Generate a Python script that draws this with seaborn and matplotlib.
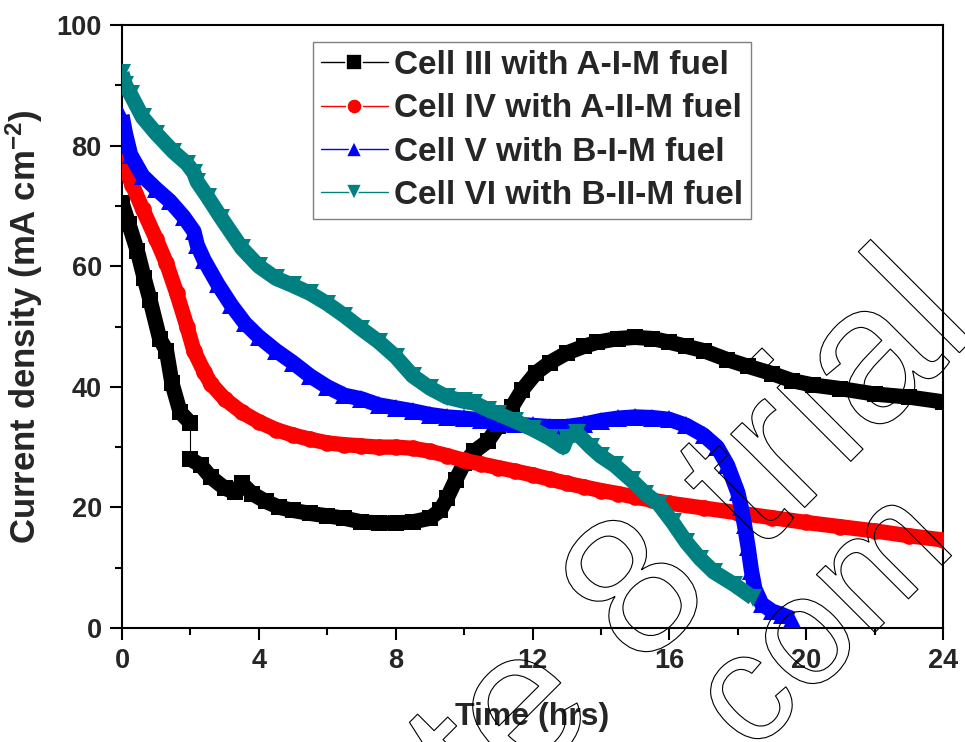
import matplotlib
matplotlib.use("Agg")
import matplotlib.pyplot as plt
import matplotlib.patheffects as pe
from matplotlib.lines import Line2D
from matplotlib.ticker import MultipleLocator
import seaborn as sns

# ---- Cell III with A-I-M fuel (two recorded segments) ----
cell3_t_a = [0.0, 0.2, 0.45, 0.65, 0.82, 1.1, 1.3, 1.46, 1.7, 2.0]
cell3_j_a = [70.5, 67.0, 62.5, 58.0, 54.4, 48.0, 46.0, 40.6, 35.8, 34.0]
cell3_t_b = [2.0, 2.3, 2.6, 3.0, 3.3, 3.5, 3.8, 4.2, 4.6, 5.0, 5.5, 6.0, 6.5,
             7.0, 7.5, 8.0, 8.5, 9.0, 9.3, 9.5, 9.75, 10.0, 10.3, 10.7, 11.0,
             11.4, 11.7, 12.1, 12.5, 13.0, 13.5, 13.9, 14.5, 15.0, 15.5, 16.0,
             16.5, 17.0, 17.7, 18.3, 19.0, 19.6, 20.2, 21.0, 22.0, 23.0, 24.0]
cell3_j_b = [28.0, 27.0, 25.0, 23.2, 22.5, 24.0, 22.3, 21.0, 20.0, 19.5, 19.0,
             18.6, 18.2, 17.6, 17.4, 17.4, 17.6, 18.2, 19.5, 21.5, 24.5, 27.3,
             29.3, 31.0, 33.5, 36.7, 39.5, 42.3, 44.0, 45.6, 46.7, 47.4, 48.0,
             48.2, 48.0, 47.4, 46.7, 46.0, 44.5, 43.4, 42.2, 41.0, 40.3, 39.7,
             38.8, 38.3, 37.5]

# ---- Cell IV with A-II-M fuel ----
cell4_t = [0.0, 0.3, 0.6, 1.0, 1.3, 1.6, 1.9, 2.1, 2.4, 2.6, 3.0, 3.5, 4.0,
           4.5, 5.0, 5.5, 6.0, 6.5, 7.0, 7.5, 8.0, 8.5, 9.0, 9.5, 10.0, 10.5,
           11.0, 11.5, 12.0, 12.5, 13.0, 13.5, 14.0, 14.5, 15.0, 15.5, 16.0,
           17.0, 18.0, 19.0, 20.0, 21.0, 22.0, 23.0, 24.0]
cell4_j = [77.5, 73.5, 69.5, 64.5, 60.5, 55.5, 50.0, 46.0, 42.5, 40.5, 38.0,
           35.8, 34.2, 32.9, 32.0, 31.3, 30.7, 30.4, 30.2, 30.0, 30.0, 29.8,
           29.3, 28.6, 27.8, 27.2, 26.6, 26.0, 25.4, 24.7, 24.0, 23.4, 22.8,
           22.3, 21.7, 21.2, 20.7, 19.9, 19.1, 18.3, 17.5, 16.8, 16.1, 15.3,
           14.6]

# ---- Cell V with B-I-M fuel ----
cell5_t = [0.0, 0.1, 0.25, 0.6, 1.0, 1.4, 1.8, 2.1, 2.2, 2.4, 2.8, 3.2, 3.6,
           4.0, 4.5, 5.0, 5.5, 6.0, 6.5, 7.0, 7.5, 8.0, 8.5, 9.0, 9.5, 10.0,
           10.5, 11.0, 11.5, 12.0, 12.5, 13.0, 13.5, 14.0, 14.5, 15.0, 15.5,
           16.0, 16.5, 17.0, 17.4, 17.7, 18.0, 18.1, 18.2, 18.3, 18.4, 18.5,
           18.7, 19.0, 19.3, 19.6]
cell5_j = [85.0, 82.0, 78.5, 75.0, 72.8, 70.8, 68.2, 65.8, 63.5, 61.0, 57.0,
           53.5, 50.5, 48.3, 46.0, 44.0, 41.8, 40.0, 38.6, 38.0, 37.0, 36.5,
           36.0, 35.4, 35.0, 34.8, 34.5, 34.0, 33.8, 33.6, 33.4, 33.4, 33.8,
           34.4, 34.8, 35.0, 34.9, 34.6, 33.6, 32.0, 30.0, 27.0, 22.5, 20.0,
           17.0, 13.5, 9.5, 6.5, 4.0, 2.8, 2.2, 1.5]

# ---- Cell VI with B-II-M fuel ----
cell6_t = [0.0, 0.1, 0.25, 0.6, 1.0, 1.5, 1.9, 2.1, 2.2, 2.5, 2.9, 3.5, 4.0,
           4.5, 5.0, 5.5, 6.0, 6.5, 7.0, 7.5, 8.0, 8.5, 9.0, 9.5, 10.0, 10.3,
           10.7, 11.0, 11.5, 12.0, 12.5, 12.9, 13.0, 13.3, 13.7, 14.0, 14.4,
           14.9, 15.3, 15.7, 16.1, 16.5, 16.9, 17.3, 17.9, 18.45]
cell6_j = [92.0, 90.0, 88.5, 84.7, 82.0, 79.0, 77.0, 75.5, 74.0, 71.5, 68.0,
           63.0, 60.0, 58.0, 56.8, 55.5, 53.8, 51.8, 49.6, 47.5, 45.0, 41.8,
           39.8, 38.3, 37.6, 37.3, 36.2, 35.5, 34.3, 33.0, 31.5, 30.0, 31.5,
           32.3, 30.0, 28.5, 27.0, 24.5, 22.3, 20.5, 17.5, 14.2, 11.5, 9.3,
           7.2, 5.0]

labels = ["Cell III with A-I-M fuel", "Cell IV with A-II-M fuel",
          "Cell V with B-I-M fuel", "Cell VI with B-II-M fuel"]
colors = ["#000000", "#ff0000", "#0000ff", "#008080"]
markers = ["s", "o", "^", "v"]

sns.set_style("ticks")
plt.rcParams["font.family"] = ["Liberation Sans", "DejaVu Sans"]
plt.rcParams["mathtext.fontset"] = "custom"
plt.rcParams["mathtext.rm"] = "Liberation Sans:bold"
plt.rcParams["mathtext.bf"] = "Liberation Sans:bold"
plt.rcParams["mathtext.it"] = "Liberation Sans:bold"
plt.rcParams["axes.unicode_minus"] = False

fig = plt.figure(figsize=(9.65, 7.42), dpi=100)
ax = fig.add_axes([122 / 965, 1 - 628 / 742, (943 - 122) / 965, (628 - 25) / 742])

BAND = 11
common = dict(ax=ax, sort=False, estimator=None, legend=False,
              linewidth=BAND, markeredgewidth=0, solid_joinstyle="round",
              solid_capstyle="butt")

# dense symbol traces are drawn as a thick band with symbols at each reading
sns.lineplot(x=cell3_t_a, y=cell3_j_a, color=colors[0], marker=markers[0],
             markersize=11, zorder=3, **common)
sns.lineplot(x=cell3_t_b, y=cell3_j_b, color=colors[0], marker=markers[0],
             markersize=11, zorder=3, **common)
# thin connector across the break in the Cell III record
sns.lineplot(x=[cell3_t_a[-1], cell3_t_b[0]], y=[cell3_j_a[-1], cell3_j_b[0]],
             ax=ax, color=colors[0], linewidth=0.8, sort=False,
             estimator=None, legend=False, zorder=2)
sns.lineplot(x=cell4_t, y=cell4_j, color=colors[1], marker=markers[1],
             markersize=12, zorder=4, **common)
sns.lineplot(x=cell5_t, y=cell5_j, color=colors[2], marker=markers[2],
             markersize=13, zorder=5, **common)
sns.lineplot(x=cell6_t, y=cell6_j, color=colors[3], marker=markers[3],
             markersize=13, zorder=6, **common)

ax.set_xlim(0, 24)
ax.set_ylim(0, 100)
ax.xaxis.set_major_locator(MultipleLocator(4))
ax.xaxis.set_minor_locator(MultipleLocator(2))
ax.yaxis.set_major_locator(MultipleLocator(20))
ax.yaxis.set_minor_locator(MultipleLocator(10))
ax.tick_params(which="both", direction="out", top=False, right=False,
               width=1.5, color="black", pad=6)
ax.tick_params(which="major", length=8.5, labelsize=19.5)
ax.tick_params(which="minor", length=4.7)
for lab in ax.get_xticklabels() + ax.get_yticklabels():
    lab.set_fontweight("bold")
for side in ["left", "right", "top", "bottom"]:
    ax.spines[side].set_visible(True)
    ax.spines[side].set_linewidth(1.5)
    ax.spines[side].set_color("black")

ax.set_xlabel("Time (hrs)", fontsize=23, fontweight="bold", labelpad=20)
ax.set_ylabel(r"Current density (mA cm$^{-2}$)", fontsize=25,
              fontweight="bold", labelpad=8)

handles = [Line2D([], [], color=c, marker=m, linewidth=1, markersize=11,
                  markeredgewidth=1.2, markeredgecolor="white")
           for c, m in zip(colors, markers)]
leg = ax.legend(handles, labels, loc="upper left",
                bbox_to_anchor=(313 / 965, 1 - 42 / 742),
                bbox_transform=fig.transFigure, borderaxespad=0,
                frameon=True, fancybox=False, framealpha=1,
                edgecolor="#808080", borderpad=0.24, handlelength=2.0,
                handletextpad=0.18, labelspacing=0.37, numpoints=1,
                prop={"family": "Liberation Sans", "weight": "bold",
                      "size": 24})
leg.get_frame().set_linewidth(1.0)
leg.set_zorder(10)

# evaluation-copy watermark, outlined letters
wm = dict(rotation=45, rotation_mode="anchor", ha="center",
          va="center", color="none", family="Liberation Sans", zorder=100,
          path_effects=[pe.Stroke(linewidth=0.8, foreground="black")])
fig.text(697 / 965, 1 - 543 / 742, "te 8 trial", fontsize=142, **wm)
fig.text(811 / 965, 1 - 639 / 742, ".com", fontsize=112, **wm)

fig.savefig("out.png", dpi=100, facecolor="white")
